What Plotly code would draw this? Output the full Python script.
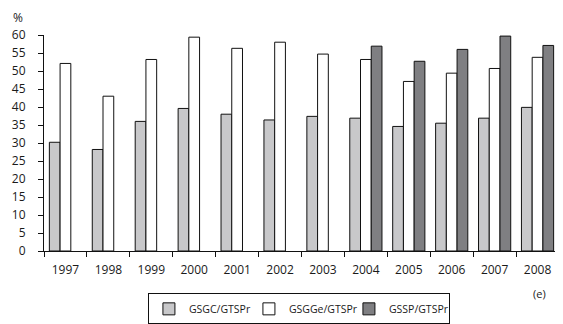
import plotly.graph_objects as go

years = ["1997", "1998", "1999", "2000", "2001", "2002", "2003", "2004", "2005", "2006", "2007", "2008"]
gsgc = [30.2, 28.2, 36.0, 39.6, 38.0, 36.4, 37.4, 36.9, 34.6, 35.5, 36.9, 39.9]
gsgge = [52.1, 43.0, 53.2, 59.4, 56.3, 58.0, 54.7, 53.2, 47.1, 49.4, 50.7, 53.8]
gssp = [None, None, None, None, None, None, None, 56.9, 52.7, 56.0, 59.7, 57.1]
series_names = ["GSGC/GTSPr", "GSGGe/GTSPr", "GSSP/GTSPr"]
y_ticks = list(range(0, 61, 5))

font = dict(family="Open Sans", size=12, color="#1a1a1a")

fig = go.Figure()
for name, vals, col in zip(series_names, [gsgc, gsgge, gssp], ["#c8c8ca", "#ffffff", "#7f7f82"]):
    fig.add_trace(go.Bar(x=years, y=vals, name=name,
                         marker=dict(color=col, line=dict(color="#111111", width=1))))

# page has an 8px body margin, so the figure is sized 555x316
fig.update_layout(
    width=555, height=316,
    margin=dict(l=36, r=4, t=27, b=73),
    paper_bgcolor="white", plot_bgcolor="white",
    barmode="group", bargap=0.25, bargroupgap=0,
    font=font,
    showlegend=True,
    legend=dict(orientation="h", x=0.495, xanchor="center", xref="paper",
                y=0.097, yanchor="top", yref="container",
                bordercolor="#111111", borderwidth=1, font=dict(family="Open Sans", size=10.5),
                itemwidth=30, traceorder="normal", tracegroupgap=0,
                entrywidth=55, entrywidthmode="pixels"),
    xaxis=dict(type="category", showline=True, linecolor="#111111", linewidth=1,
               ticks="outside", tickson="boundaries", ticklen=5, tickcolor="#111111",
               showgrid=False, tickfont=font, automargin=False, ticklabelstandoff=8),
    yaxis=dict(range=[0, 60], tickvals=y_ticks, showline=True, linecolor="#111111", linewidth=1,
               ticks="outside", ticklen=5, tickcolor="#111111", showgrid=False, zeroline=False,
               tickfont=font, automargin=False, ticklabelstandoff=10),
)
fig.add_annotation(text="%", xref="paper", yref="paper", x=-0.05, y=1.083, showarrow=False,
                   xanchor="center", yanchor="middle", font=font)
fig.add_annotation(text="(e)", xref="paper", yref="paper", x=0.963, y=-0.197, showarrow=False,
                   xanchor="center", yanchor="middle", font=dict(family="Open Sans", size=11, color="#1a1a1a"))

fig.write_html("out.html")
